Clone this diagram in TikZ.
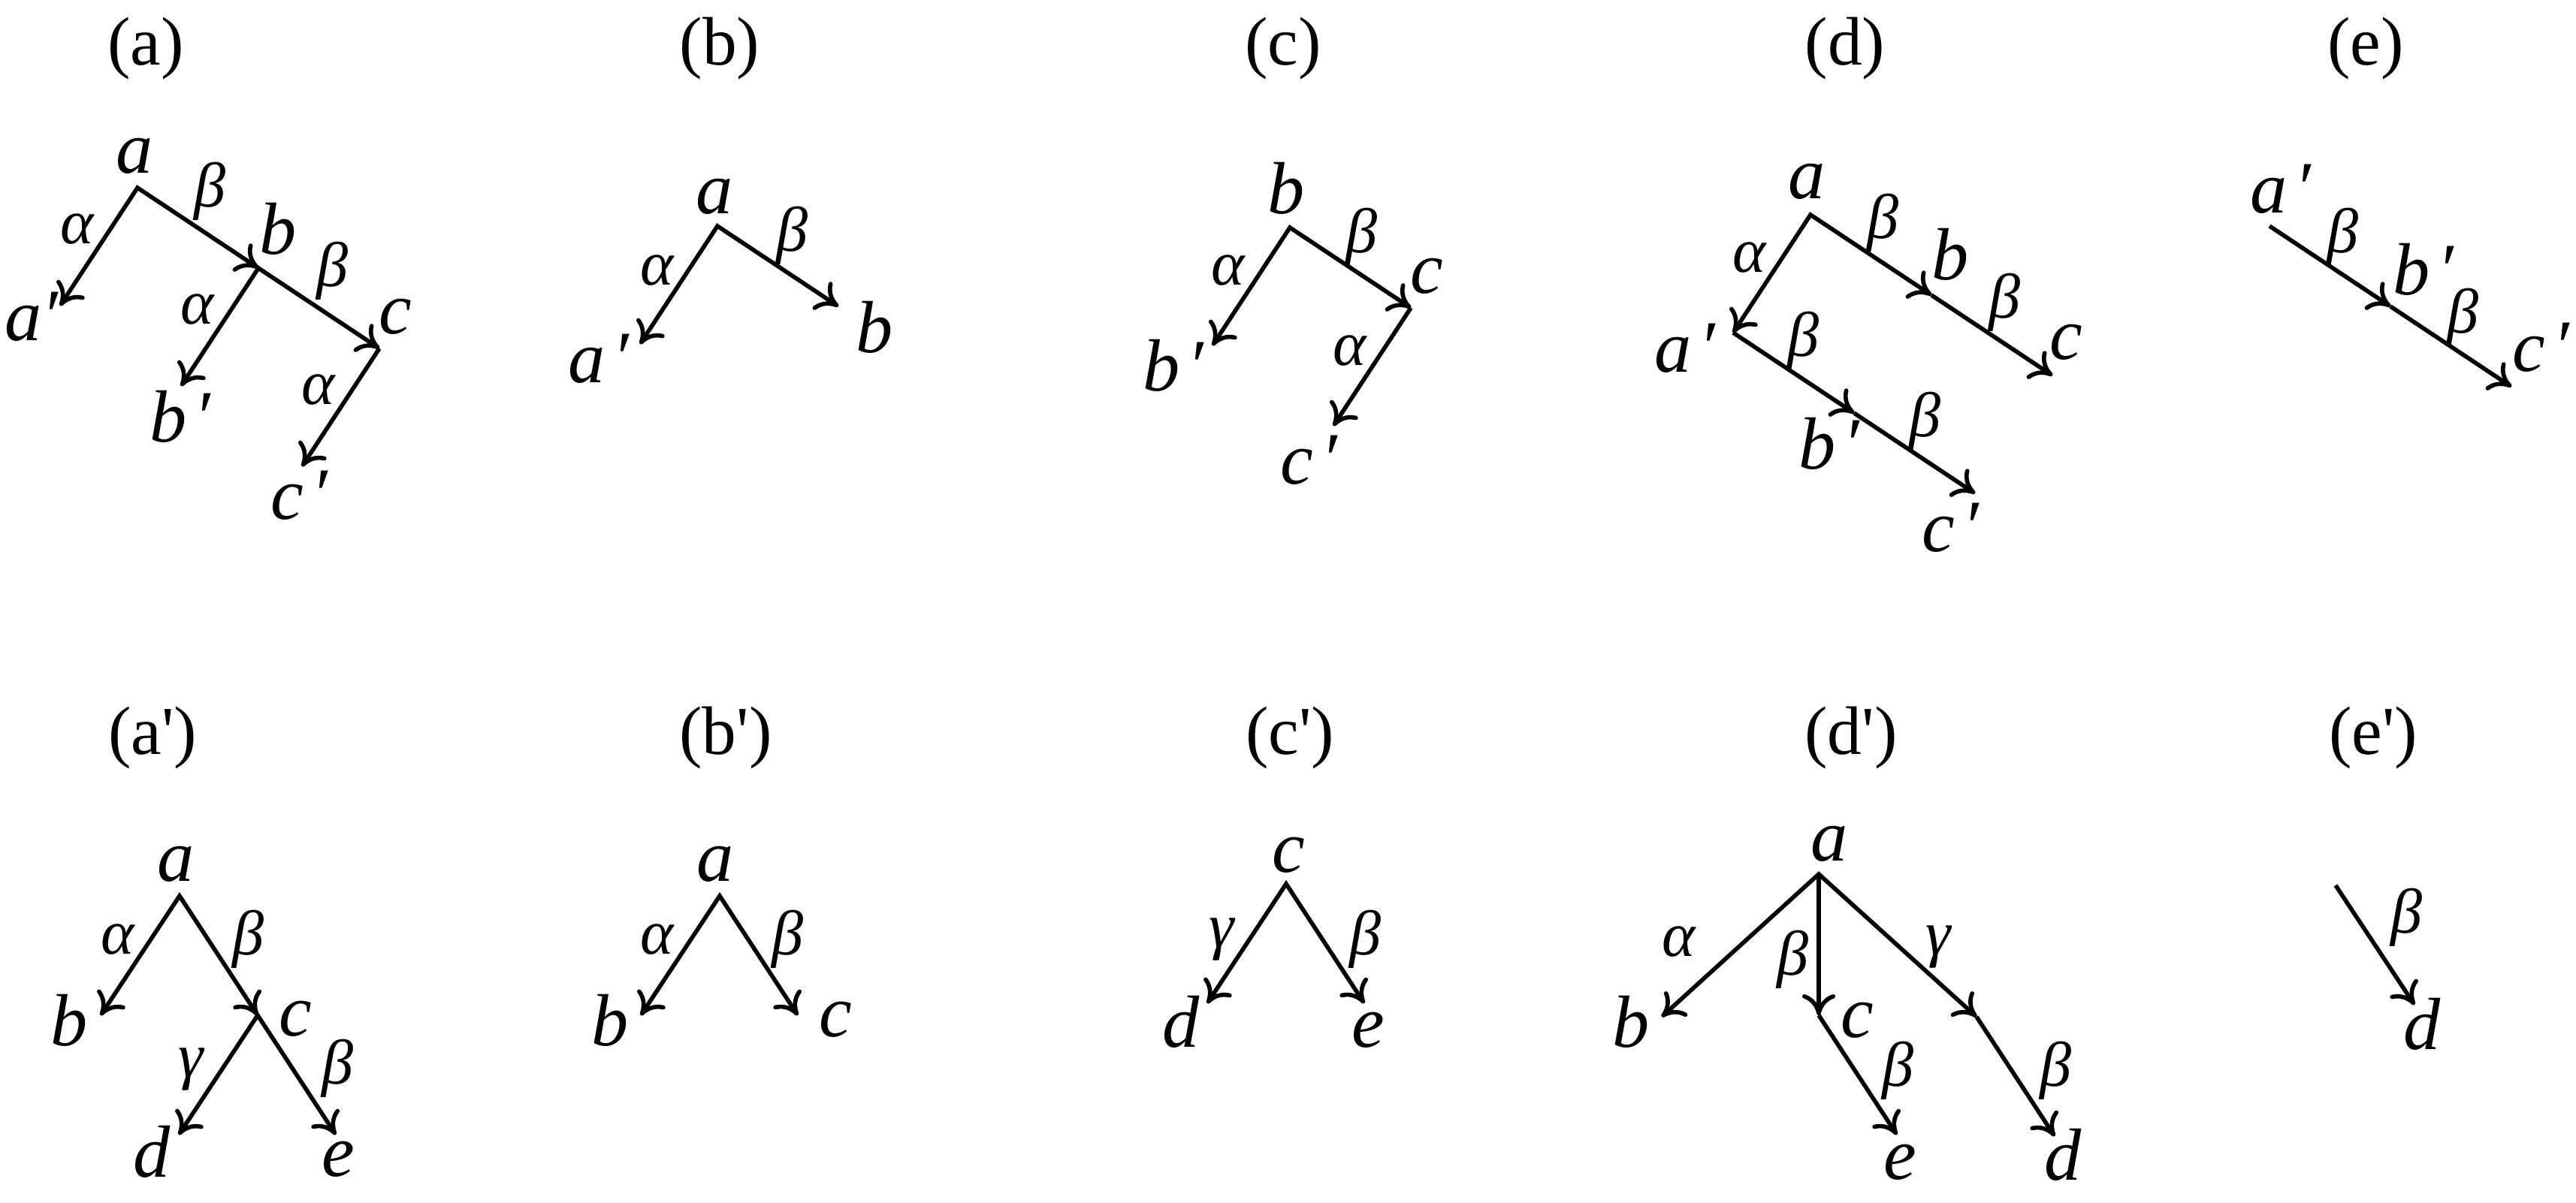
\documentclass[tikz,border=0pt]{standalone}
\usepackage{fontspec}
\setmainfont{Liberation Serif}
\usetikzlibrary{arrows.meta}

\newcommand{\pr}{\kern0.1em′}
\tikzset{
  arr/.style={line width=1.6pt, line join=miter,
    -{Computer Modern Rightarrow[length=2.8mm,width=4.4mm]}},
  both/.style={line width=1.6pt, line join=miter,
    {Computer Modern Rightarrow[length=2.8mm,width=4.4mm]}-{Computer Modern Rightarrow[length=2.8mm,width=4.4mm]}},
  lbl/.style={font=\fontsize{28}{32}\selectfont\itshape, inner sep=0pt},
  glbl/.style={font=\fontsize{24}{28}\selectfont\itshape, inner sep=0pt},
  ttl/.style={font=\fontsize{26}{30}\selectfont, inner sep=0pt}
}

\begin{document}
\begin{tikzpicture}
\useasboundingbox (0,0) rectangle (34.29,-16.01);

%titles
\node[ttl] (tA) at (1.94,-0.65) {(a)};
\node[ttl] (tB) at (9.58,-0.65) {(b)};
\node[ttl] (tC) at (17.08,-0.65) {(c)};
\node[ttl] (tD) at (24.56,-0.65) {(d)};
\node[ttl] (tE) at (31.49,-0.65) {(e)};
\node[ttl] (tA2) at (2.03,-9.82) {(a\textquotesingle)};
\node[ttl] (tB2) at (9.66,-9.82) {(b\textquotesingle)};
\node[ttl] (tC2) at (17.17,-9.82) {(c\textquotesingle)};
\node[ttl] (tD2) at (24.64,-9.82) {(d\textquotesingle)};
\node[ttl] (tE2) at (31.59,-9.82) {(e\textquotesingle)};

%% (a)
\coordinate (a1) at (1.83,-2.50);
\coordinate (ap1) at (0.80,-4.07);
\coordinate (b1) at (3.44,-3.57);
\coordinate (bp1) at (2.41,-5.14);
\coordinate (c1) at (5.05,-4.64);
\coordinate (cp1) at (4.02,-6.21);
\draw[both] (ap1) -- (a1) -- (b1);
\draw[both] (bp1) -- (b1) -- (c1);
\draw[arr] (c1) -- (cp1);
\node[lbl] (la1) at (1.79,-2.08) {a};
\node[lbl] (lap1) at (0.42,-4.22) {a′};
\node[lbl] (lb1) at (3.70,-3.05) {b};
\node[lbl] (lbp1) at (2.40,-5.55) {b\pr};
\node[lbl] (lc1) at (5.26,-4.22) {c};
\node[lbl] (lcp1) at (3.98,-6.60) {c\pr};
\node[glbl] (ga1) at (1.03,-3.05) {α};
\node[glbl] (gb1) at (2.80,-2.55) {β};
\node[glbl] (ga1b) at (2.63,-4.12) {α};
\node[glbl] (gb1b) at (4.42,-3.61) {β};
\node[glbl] (ga1c) at (4.24,-5.19) {α};

%% (b)
\coordinate (a2) at (9.55,-3.01);
\coordinate (ap2) at (8.52,-4.58);
\coordinate (b2) at (11.16,-4.08);
\draw[both] (ap2) -- (a2) -- (b2);
\node[lbl] (la2) at (9.51,-2.62) {a};
\node[lbl] (lap2) at (7.97,-4.78) {a\pr};
\node[lbl] (lb2) at (11.64,-4.36) {b};
\node[glbl] (ga2) at (8.75,-3.60) {α};
\node[glbl] (gb2) at (10.54,-3.14) {β};

%% (c)
\coordinate (b3) at (17.17,-3.03);
\coordinate (bp3) at (16.14,-4.60);
\coordinate (c3) at (18.78,-4.10);
\coordinate (cp3) at (17.75,-5.67);
\draw[both] (bp3) -- (b3) -- (c3);
\draw[arr] (c3) -- (cp3);
\node[lbl] (lb3) at (17.12,-2.51) {b};
\node[lbl] (lbp3) at (15.62,-4.87) {b\pr};
\node[lbl] (lc3) at (18.99,-3.68) {c};
\node[lbl] (lcp3) at (17.42,-6.13) {c\pr};
\node[glbl] (ga3) at (16.35,-3.60) {α};
\node[glbl] (gb3) at (18.12,-3.16) {β};
\node[glbl] (ga3b) at (17.97,-4.67) {α};

%% (d)
\coordinate (a4) at (24.10,-2.86);
\coordinate (b4) at (25.71,-3.93);
\coordinate (c4) at (27.32,-5.00);
\coordinate (ap4) at (23.07,-4.43);
\coordinate (bp4) at (24.68,-5.50);
\coordinate (cp4) at (26.29,-6.57);
\draw[both] (ap4) -- (a4) -- (b4);
\draw[arr] (b4) -- (c4);
\draw[arr] (ap4) -- (bp4);
\draw[arr] (bp4) -- (cp4);
\node[lbl] (la4) at (24.05,-2.42) {a};
\node[lbl] (lb4) at (25.96,-3.39) {b};
\node[lbl] (lc4) at (27.50,-4.56) {c};
\node[lbl] (lap4) at (22.43,-4.64) {a\pr};
\node[lbl] (lbp4) at (24.35,-5.91) {b\pr};
\node[lbl] (lcp4) at (25.96,-7.03) {c\pr};
\node[glbl] (ga4) at (23.29,-3.43) {α};
\node[glbl] (gb4) at (25.06,-2.97) {β};
\node[glbl] (gb4b) at (26.68,-4.03) {β};
\node[glbl] (gb4c) at (24.00,-4.54) {β};
\node[glbl] (gb4d) at (25.62,-5.61) {β};

%% (e)
\coordinate (ap5) at (30.21,-3.01);
\coordinate (bp5) at (31.82,-4.08);
\coordinate (cp5) at (33.43,-5.15);
\draw[arr] (ap5) -- (bp5);
\draw[arr] (bp5) -- (cp5);
\node[lbl] (lap5) at (30.36,-2.52) {a\pr};
\node[lbl] (lbp5) at (32.26,-3.59) {b\pr};
\node[lbl] (lcp5) at (33.82,-4.63) {c\pr};
\node[glbl] (gb5) at (31.18,-3.16) {β};
\node[glbl] (gb5b) at (32.78,-4.23) {β};

%% (a')
\coordinate (a6) at (2.39,-11.93);
\coordinate (b6) at (1.34,-13.52);
\coordinate (c6) at (3.43,-13.52);
\coordinate (d6) at (2.38,-15.11);
\coordinate (e6) at (4.47,-15.11);
\draw[both] (b6) -- (a6) -- (c6);
\draw[both] (d6) -- (c6) -- (e6);
\node[lbl] (la6) at (2.34,-11.51) {a};
\node[lbl] (lb6) at (0.92,-13.59) {b};
\node[lbl] (lc6) at (3.93,-13.57) {c};
\node[lbl] (ld6) at (2.02,-15.34) {d};
\node[lbl] (le6) at (4.50,-15.44) {e};
\node[glbl] (ga6) at (1.57,-12.51) {α};
\node[glbl] (gb6) at (3.31,-12.51) {β};
\node[glbl] (gc6) at (2.54,-14.24) {γ};
\node[glbl] (gb6b) at (4.49,-14.23) {β};

%% (b')
\coordinate (a7) at (9.58,-11.93);
\coordinate (b7) at (8.53,-13.52);
\coordinate (c7) at (10.62,-13.52);
\draw[both] (b7) -- (a7) -- (c7);
\node[lbl] (la7) at (9.52,-11.51) {a};
\node[lbl] (lb7) at (8.12,-13.59) {b};
\node[lbl] (lc7) at (11.12,-13.58) {c};
\node[glbl] (ga7) at (8.75,-12.51) {α};
\node[glbl] (gb7) at (10.48,-12.51) {β};

%% (c')
\coordinate (c8) at (17.12,-11.77);
\coordinate (d8) at (16.07,-13.36);
\coordinate (e8) at (18.16,-13.36);
\draw[both] (d8) -- (c8) -- (e8);
\node[lbl] (lc8) at (17.15,-11.39) {c};
\node[lbl] (ld8) at (15.72,-13.61) {d};
\node[lbl] (le8) at (18.21,-13.72) {e};
\node[glbl] (gc8) at (16.26,-12.51) {γ};
\node[glbl] (gb8) at (18.17,-12.51) {β};

%% (d')
\coordinate (a9) at (24.21,-11.64);
\coordinate (b9) at (22.12,-13.54);
\coordinate (c9) at (24.21,-13.52);
\coordinate (m9) at (26.31,-13.54);
\coordinate (e9) at (25.25,-15.11);
\coordinate (d9) at (27.35,-15.13);
\draw[both] (b9) -- (a9) -- (m9);
\draw[arr] (a9) -- (c9);
\draw[arr] (c9) -- (e9);
\draw[arr] (m9) -- (d9);
\node[lbl] (la9) at (24.35,-11.24) {a};
\node[lbl] (lb9) at (21.71,-13.61) {b};
\node[lbl] (lc9) at (24.72,-13.59) {c};
\node[lbl] (le9) at (25.29,-15.48) {e};
\node[lbl] (ld9) at (27.46,-15.38) {d};
\node[glbl] (ga9) at (22.35,-12.54) {α};
\node[glbl] (gb9) at (23.86,-12.78) {β};
\node[glbl] (gc9) at (25.80,-12.61) {γ};
\node[glbl] (gb9b) at (25.26,-14.26) {β};
\node[glbl] (gb9c) at (27.36,-14.26) {β};

%% (e')
\coordinate (s10) at (31.09,-11.79);
\coordinate (d10) at (32.14,-13.38);
\draw[arr] (s10) -- (d10);
\node[lbl] (ld10) at (32.24,-13.64) {d};
\node[glbl] (gb10) at (32.03,-12.22) {β};
\end{tikzpicture}
\end{document}
